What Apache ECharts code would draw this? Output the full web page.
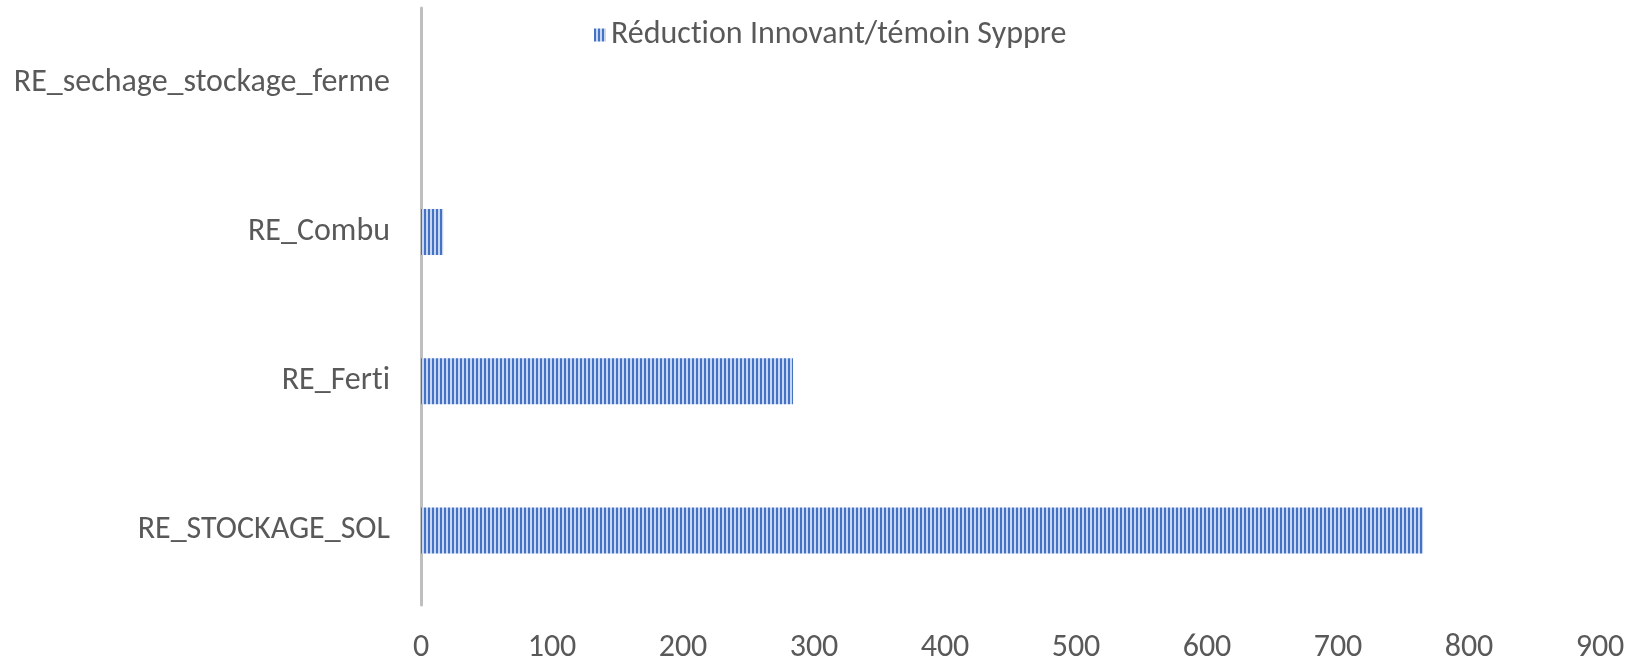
<!DOCTYPE html>
<html>
<head>
<meta charset="utf-8">
<script src="https://cdn.jsdelivr.net/npm/echarts@6/dist/echarts.min.js"></script>
<style>
  html, body { margin: 0; padding: 0; background: #fff; }
</style>
</head>
<body>
<div id="myEchart" style="width:1643px; height:664px;"></div>
<script>
// catégories (de bas en haut) et valeurs
var categories = ['RE_STOCKAGE_SOL', 'RE_Ferti', 'RE_Combu', 'RE_sechage_stockage_ferme'];
var reduction = [765, 284, 17, 0];
var xTicks = [0, 100, 200, 300, 400, 500, 600, 700, 800, 900];
var seriesName = 'Réduction Innovant/témoin Syppre';

// motif à rayures verticales
var stripe = document.createElement('canvas');
stripe.width = 4;
stripe.height = 4;
var ctx = stripe.getContext('2d');
ctx.fillStyle = '#c9d6ef';
ctx.fillRect(0, 0, 4, 4);
ctx.fillStyle = '#4472c4';
ctx.fillRect(0, 0, 2, 4);

var font = 'Carlito, "Open Sans", sans-serif';
// pas de ligature "ti" (comme dans l'original)
function noLig(s) { return String(s).replace(/ti/g, 't\u200ci'); }

var myChart = echarts.init(document.getElementById('myEchart'));
myChart.setOption({
  animation: false,
  legend: {
    top: 14,
    left: 589,
    icon: 'rect',
    itemWidth: 12,
    itemHeight: 13,
    itemGap: 5,
    formatter: noLig,
    textStyle: { fontFamily: font, fontSize: 32, color: '#595959' },
    data: [seriesName]
  },
  grid: { left: 421, right: 43, top: 8, bottom: 56, containLabel: false },
  xAxis: {
    type: 'value',
    min: xTicks[0],
    max: xTicks[xTicks.length - 1],
    interval: 100,
    axisLine: { show: false },
    axisTick: { show: false },
    splitLine: { show: false },
    axisLabel: { fontFamily: font, fontSize: 32, color: '#595959', margin: 27 }
  },
  yAxis: {
    type: 'category',
    data: categories,
    axisLine: { show: true, lineStyle: { color: '#bfbfbf', width: 3 } },
    axisTick: { show: false },
    axisLabel: { fontFamily: font, fontSize: 32, color: '#595959', margin: 31, formatter: noLig }
  },
  series: [{
    name: seriesName,
    type: 'bar',
    data: reduction,
    barWidth: 46,
    itemStyle: {
      color: { image: stripe, repeat: 'repeat' }
    }
  }]
});
</script>
</body>
</html>
